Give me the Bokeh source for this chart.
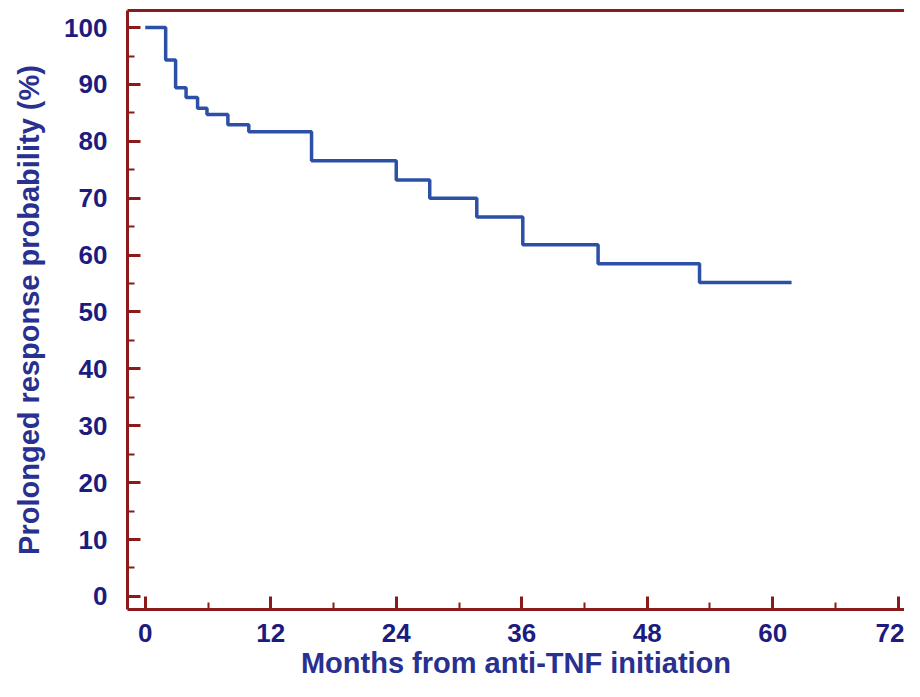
from bokeh.plotting import figure
from bokeh.models import LinearAxis, FixedTicker, Range1d
from bokeh.embed import file_html
from bokeh.resources import INLINE

# Kaplan-Meier style step data
months = [0, 1.95, 2.9, 3.9, 5.0, 5.9, 7.9, 9.9, 15.9, 24.0, 27.2, 31.7, 36.1, 43.3, 53.0, 61.8]
response = [100, 94.3, 89.4, 87.7, 85.8, 84.7, 82.9, 81.7, 76.6, 73.2, 70.0, 66.7, 61.8, 58.5, 55.2, 55.2]

x_ticks = [0, 12, 24, 36, 48, 60, 72]
x_minor = [6, 18, 30, 42, 54, 66]
y_ticks = [0, 10, 20, 30, 40, 50, 60, 70, 80, 90, 100]
y_minor = [5, 15, 25, 35, 45, 55, 65, 75, 85, 95]

AXIS = "#8b1a1a"
LABEL = "#1c1c7e"
FONT = "Liberation Sans"

p = figure(width=904, height=681, output_backend="svg", toolbar_location=None,
           x_range=Range1d(-1.7, 72.6), y_range=Range1d(-2.3, 103),
           min_border_left=127, min_border_right=0, min_border_top=10, min_border_bottom=0)
p.outline_line_color = None
p.grid.visible = False
p.background_fill_color = "white"
p.border_fill_color = "white"

p.step(months, response, mode="after", line_color="#2c50a6", line_width=3.5)

for ax in (p.xaxis[0], p.yaxis[0]):
    ax.axis_line_color = AXIS
    ax.axis_line_width = 3
    ax.major_tick_line_color = AXIS
    ax.minor_tick_line_color = AXIS
    ax.major_tick_line_width = 3
    ax.minor_tick_line_width = 2
    ax.major_tick_in = 13
    ax.major_tick_out = 0
    ax.minor_tick_in = 7
    ax.minor_tick_out = 0
    ax.major_label_text_font = FONT
    ax.major_label_text_font_style = "bold"
    ax.major_label_text_font_size = "26px"
    ax.major_label_text_color = LABEL
    ax.axis_label_text_font = FONT
    ax.axis_label_text_font_style = "bold"
    ax.axis_label_text_font_size = "29px"
    ax.axis_label_text_color = "#283090"

p.xaxis.ticker = FixedTicker(ticks=x_ticks, minor_ticks=x_minor)
p.yaxis.ticker = FixedTicker(ticks=y_ticks, minor_ticks=y_minor)
p.xaxis.axis_label = "Months from anti-TNF initiation"
p.yaxis.axis_label = "Prolonged response probability (%)"
p.xaxis.major_label_standoff = 14
p.yaxis.major_label_standoff = 20
p.xaxis.axis_label_standoff = 2
p.yaxis.axis_label_standoff = 16

top = LinearAxis(ticker=FixedTicker(ticks=[]), axis_line_color=AXIS, axis_line_width=3,
                 major_tick_line_color=None, minor_tick_line_color=None,
                 major_label_text_font_size="0px", major_tick_out=0, minor_tick_out=0)
p.add_layout(top, "above")

open("out.html", "w").write(file_html(p, INLINE))
